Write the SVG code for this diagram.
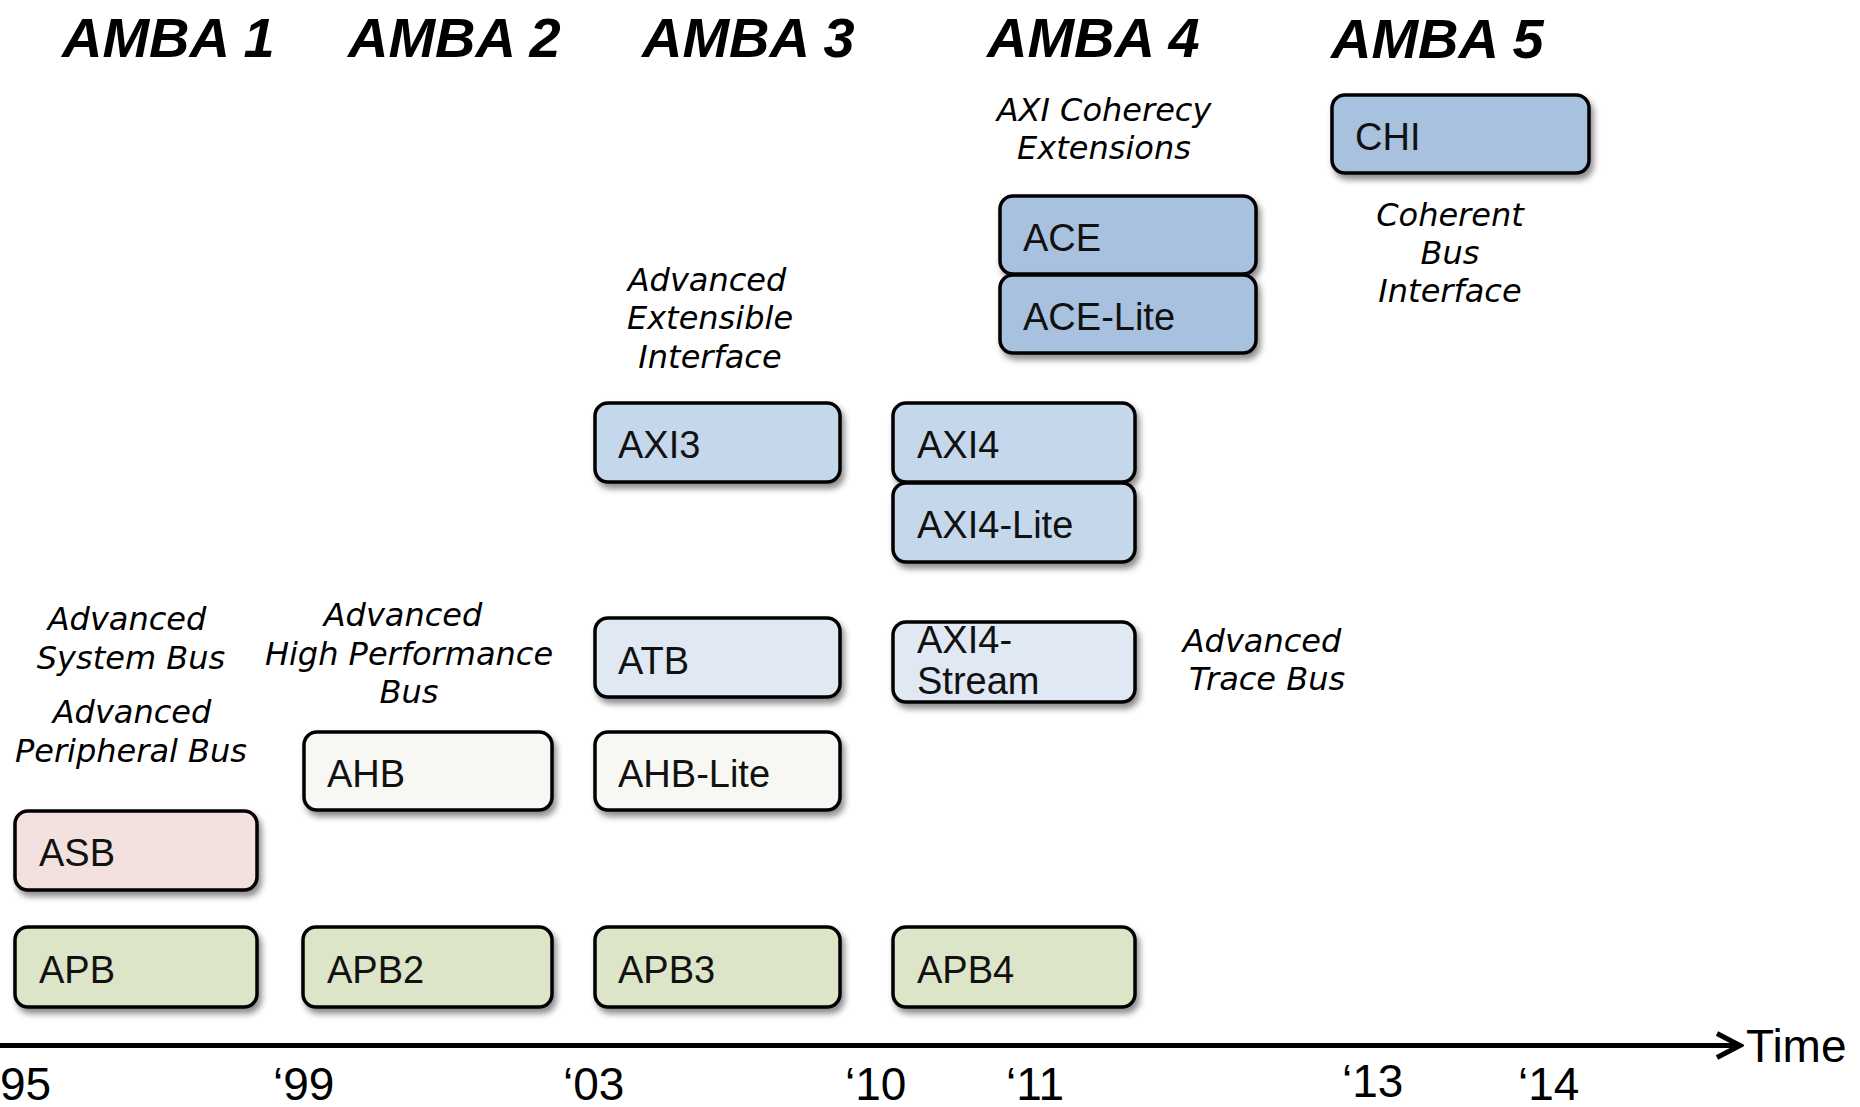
<svg xmlns="http://www.w3.org/2000/svg" width="1860" height="1107" viewBox="0 0 1860 1107">
  <defs>
    <filter id="shadow" x="-10%" y="-20%" width="125%" height="150%">
      <feDropShadow dx="3" dy="5" stdDeviation="3" flood-color="#000" flood-opacity="0.45"/>
    </filter>
    <marker id="chevron" viewBox="0 0 30 30" refX="26" refY="15" markerWidth="30" markerHeight="30" markerUnits="userSpaceOnUse" orient="auto">
      <polyline points="3,3 26,15 3,27" fill="none" stroke="#000" stroke-width="5" stroke-linejoin="miter"/>
    </marker>
  </defs>
  <style>
    .box { stroke: #000; stroke-width: 3.5; filter: url(#shadow); }
    .chi { fill: #a7c1df; }
    .axi { fill: #c5d7eb; }
    .trace { fill: #dfe8f3; }
    .ahb { fill: #f7f8f3; }
    .asb { fill: #f3e1e0; }
    .apb { fill: #dde5c8; }
    .lbl { font-family: "Liberation Sans", Arial, sans-serif; font-size: 38px; fill: #111; }
    .hdr { font-family: "Liberation Sans", Arial, sans-serif; font-size: 56px; font-weight: bold; font-style: italic; fill: #000; }
    .note { font-family: "DejaVu Sans", Verdana, sans-serif; font-size: 32px; font-style: italic; fill: #000; text-anchor: middle; }
    .year { font-family: "Liberation Sans", Arial, sans-serif; font-size: 46px; fill: #000; }
  </style>
  <rect width="1860" height="1107" fill="#fff"/>

  <!-- generation headers -->
  <g id="headers">
    <text class="hdr" x="62" y="57">AMBA 1</text>
    <text class="hdr" x="348" y="57">AMBA 2</text>
    <text class="hdr" x="642" y="57">AMBA 3</text>
    <text class="hdr" x="987" y="57">AMBA 4</text>
    <text class="hdr" x="1331" y="58">AMBA 5</text>
  </g>

  <!-- descriptive captions -->
  <g id="captions">
    <text class="note" x="1104" y="121">AXI Coherecy</text>
    <text class="note" x="1104" y="159">Extensions</text>
    <text class="note" x="1450" y="226">Coherent</text>
    <text class="note" x="1450" y="264">Bus</text>
    <text class="note" x="1450" y="302">Interface</text>
    <text class="note" x="707" y="291">Advanced</text>
    <text class="note" x="710" y="329">Extensible</text>
    <text class="note" x="710" y="368">Interface</text>
    <text class="note" x="1262" y="652">Advanced</text>
    <text class="note" x="1267" y="690">Trace Bus</text>
    <text class="note" x="127" y="630">Advanced</text>
    <text class="note" x="131" y="669">System Bus</text>
    <text class="note" x="132" y="723">Advanced</text>
    <text class="note" x="131" y="762">Peripheral Bus</text>
    <text class="note" x="403" y="626">Advanced</text>
    <text class="note" x="409" y="665">High Performance</text>
    <text class="note" x="409" y="703">Bus</text>
  </g>

  <!-- AMBA 5 -->
  <g id="chi"><rect class="box chi" x="1332" y="95" width="257" height="78" rx="13"/><text class="lbl" x="1355" y="150">CHI</text></g>

  <!-- AMBA 4 coherency -->
  <g id="ace"><rect class="box chi" x="1000" y="196" width="256" height="78" rx="13"/><text class="lbl" x="1023" y="251">ACE</text></g>
  <g id="ace-lite"><rect class="box chi" x="1000" y="275" width="256" height="78" rx="13"/><text class="lbl" x="1023" y="330">ACE-Lite</text></g>

  <!-- AXI family -->
  <g id="axi3"><rect class="box axi" x="595" y="403" width="245" height="79" rx="13"/><text class="lbl" x="618" y="458">AXI3</text></g>
  <g id="axi4"><rect class="box axi" x="893" y="403" width="242" height="79" rx="13"/><text class="lbl" x="917" y="458">AXI4</text></g>
  <g id="axi4-lite"><rect class="box axi" x="893" y="483" width="242" height="79" rx="13"/><text class="lbl" x="917" y="538">AXI4-Lite</text></g>

  <!-- trace / stream -->
  <g id="atb"><rect class="box trace" x="595" y="618" width="245" height="79" rx="13"/><text class="lbl" x="618" y="674">ATB</text></g>
  <g id="axi4-stream"><rect class="box trace" x="893" y="622" width="242" height="80" rx="13"/><text class="lbl" x="917" y="653">AXI4-</text><text class="lbl" x="917" y="694">Stream</text></g>

  <!-- AHB family -->
  <g id="ahb"><rect class="box ahb" x="304" y="732" width="248" height="78" rx="13"/><text class="lbl" x="327" y="787">AHB</text></g>
  <g id="ahb-lite"><rect class="box ahb" x="595" y="732" width="245" height="78" rx="13"/><text class="lbl" x="618" y="787">AHB-Lite</text></g>

  <!-- ASB -->
  <g id="asb"><rect class="box asb" x="15" y="811" width="242" height="79" rx="13"/><text class="lbl" x="39" y="866">ASB</text></g>

  <!-- APB family -->
  <g id="apb"><rect class="box apb" x="15" y="927" width="242" height="80" rx="13"/><text class="lbl" x="39" y="983">APB</text></g>
  <g id="apb2"><rect class="box apb" x="303" y="927" width="249" height="80" rx="13"/><text class="lbl" x="327" y="983">APB2</text></g>
  <g id="apb3"><rect class="box apb" x="595" y="927" width="245" height="80" rx="13"/><text class="lbl" x="618" y="983">APB3</text></g>
  <g id="apb4"><rect class="box apb" x="893" y="927" width="242" height="80" rx="13"/><text class="lbl" x="917" y="983">APB4</text></g>

  <!-- time axis -->
  <g id="connectors">
    <line x1="0" y1="1045.5" x2="1740" y2="1045.5" stroke="#000" stroke-width="5" marker-end="url(#chevron)"/>
  </g>
  <g id="axis-labels">
    <text class="year" x="1746" y="1062" font-size="49">Time</text>
    <text class="year" x="0" y="1100">95</text>
    <text class="year" x="273" y="1100">‘99</text>
    <text class="year" x="563" y="1100">‘03</text>
    <text class="year" x="845" y="1100">‘10</text>
    <text class="year" x="1006" y="1100">‘11</text>
    <text class="year" x="1342" y="1097">‘13</text>
    <text class="year" x="1518" y="1100">‘14</text>
  </g>
</svg>
